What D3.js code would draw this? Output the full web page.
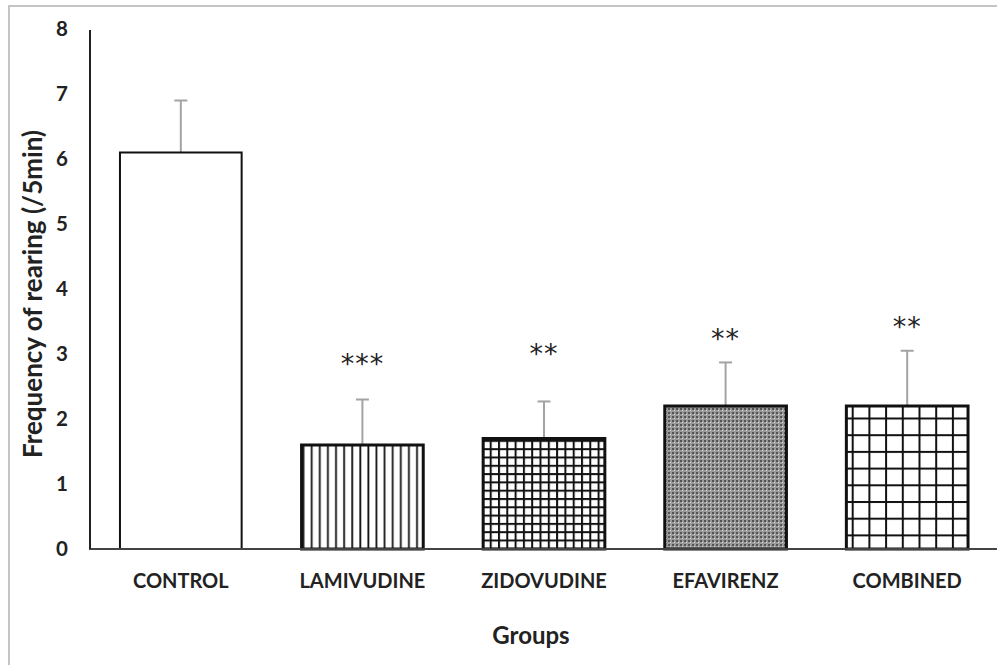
<!DOCTYPE html>
<html>
<head>
<meta charset="utf-8">
<script src="https://cdn.jsdelivr.net/npm/d3@7"></script>
<style>
  html, body { margin: 0; padding: 0; background: #fff; }
  svg { display: block; }
  text { font-family: Lato, "Open Sans", sans-serif; font-weight: 700; fill: #222; }
</style>
</head>
<body>
<svg id="chart" width="997" height="665"></svg>
<script>
// Rearing frequency per treatment group (mean with SD)
const groups = ["CONTROL", "LAMIVUDINE", "ZIDOVUDINE", "EFAVIRENZ", "COMBINED"];
const means = [6.1, 1.6, 1.7, 2.2, 2.2];
const errors = [0.8, 0.7, 0.57, 0.67, 0.85];
const significance = ["", "***", "**", "**", "**"];
const markLevels = [null, 2.94, 3.09, 3.32, 3.51];
const yTicks = [0, 1, 2, 3, 4, 5, 6, 7, 8];

const svg = d3.select("#chart");
const W = 997, H = 665;

// Figure border (top and left edges)
svg.append("line").attr("x1", 8).attr("x2", W).attr("y1", 6).attr("y2", 6)
  .attr("stroke", "#c4c4c4").attr("stroke-width", 2);
svg.append("line").attr("x1", 9).attr("x2", 9).attr("y1", 6).attr("y2", H)
  .attr("stroke", "#c4c4c4").attr("stroke-width", 2);

const x = d3.scaleBand().domain(groups).range([90, 998])
  .paddingInner(0.33).paddingOuter(0.165);
const y = d3.scaleLinear().domain([0, 8]).range([549, 29]);

// Fill patterns for the bars
const defs = svg.append("defs");
function pattern(id, w, h, build) {
  const p = defs.append("pattern").attr("id", id)
    .attr("patternUnits", "userSpaceOnUse").attr("width", w).attr("height", h);
  p.append("rect").attr("width", w).attr("height", h).attr("fill", "#fff");
  build(p);
  return "url(#" + id + ")";
}
const fills = [
  "#fff",
  pattern("vlines", 8.1, 10, p => p.append("rect").attr("x", 3).attr("width", 1.8).attr("height", 10).attr("fill", "#111")),
  pattern("smallgrid", 8.3, 8.3, p => {
    p.append("rect").attr("x", 0).attr("width", 2).attr("height", 8.3).attr("fill", "#111");
    p.append("rect").attr("y", 0).attr("width", 8.3).attr("height", 2).attr("fill", "#111");
  }),
  pattern("dots", 4, 4, p => {
    p.select("rect").attr("fill", "#9a9a9a");
    p.append("rect").attr("x", 0).attr("y", 0).attr("width", 2).attr("height", 2).attr("fill", "#555");
    p.append("rect").attr("x", 2).attr("y", 2).attr("width", 1).attr("height", 1).attr("fill", "#d8d8d8");
  }),
  pattern("biggrid", 16.7, 16.7, p => {
    p.append("rect").attr("x", 0).attr("width", 2).attr("height", 16.7).attr("fill", "#111");
    p.append("rect").attr("y", 0).attr("width", 16.7).attr("height", 2).attr("fill", "#111");
  })
];

const data = groups.map((g, i) => ({ g, i, m: means[i], e: errors[i], s: significance[i], lv: markLevels[i] }));

// Error bars (upper only)
const eb = svg.append("g").attr("stroke", "#a3a3a3").attr("stroke-width", 2);
data.forEach(d => {
  const cx = x(d.g) + x.bandwidth() / 2;
  eb.append("line").attr("x1", cx).attr("x2", cx).attr("y1", y(d.m)).attr("y2", y(d.m + d.e));
  eb.append("line").attr("x1", cx - 6.5).attr("x2", cx + 6.5).attr("y1", y(d.m + d.e)).attr("y2", y(d.m + d.e));
});

// Bars
svg.append("g").selectAll("rect").data(data).join("rect")
  .attr("x", d => x(d.g))
  .attr("y", d => y(d.m))
  .attr("width", x.bandwidth())
  .attr("height", d => y(0) - y(d.m))
  .attr("fill", d => fills[d.i])
  .attr("stroke", "#111")
  .attr("stroke-width", d => d.i === 0 ? 2 : 3);

// Significance markers
svg.append("g").selectAll("text").data(data.filter(d => d.s)).join("text")
  .attr("x", d => x(d.g) + x.bandwidth() / 2)
  .attr("y", d => y(d.lv) + 15)
  .attr("text-anchor", "middle")
  .attr("font-size", 27)
  .style("font-family", "'DejaVu Sans', sans-serif")
  .style("font-weight", 400)
  .style("letter-spacing", "1px")
  .attr("fill", "#333")
  .text(d => d.s);

// Axes
svg.append("line").attr("x1", 89).attr("x2", W).attr("y1", y(0)).attr("y2", y(0))
  .attr("stroke", "#444").attr("stroke-width", 2);
svg.append("line").attr("x1", 90).attr("x2", 90).attr("y1", y(8) + 1).attr("y2", y(0))
  .attr("stroke", "#222").attr("stroke-width", 2);

const yAxis = svg.append("g").attr("transform", "translate(90,0)")
  .call(d3.axisLeft(y).tickValues(yTicks).tickSize(0).tickPadding(22).tickFormat(d3.format("d")));
yAxis.select(".domain").remove();
yAxis.selectAll("text").attr("font-size", 20.5).style("font-family", "Lato, sans-serif").style("font-weight", 700).attr("fill", "#222");

const xAxis = svg.append("g").attr("transform", "translate(0," + y(0) + ")")
  .call(d3.axisBottom(x).tickSize(0).tickPadding(25));
xAxis.select(".domain").remove();
xAxis.selectAll("text").attr("font-size", 20).style("font-family", "Lato, sans-serif").style("font-weight", 700).attr("fill", "#222");

// Axis titles
svg.append("text").attr("x", 531).attr("y", 644).attr("text-anchor", "middle")
  .attr("font-size", 24).text("Groups");
svg.append("text").attr("transform", "translate(42,294) rotate(-90)")
  .attr("text-anchor", "middle").attr("font-size", 26)
  .text("Frequency of rearing (/5min)");
</script>
</body>
</html>
